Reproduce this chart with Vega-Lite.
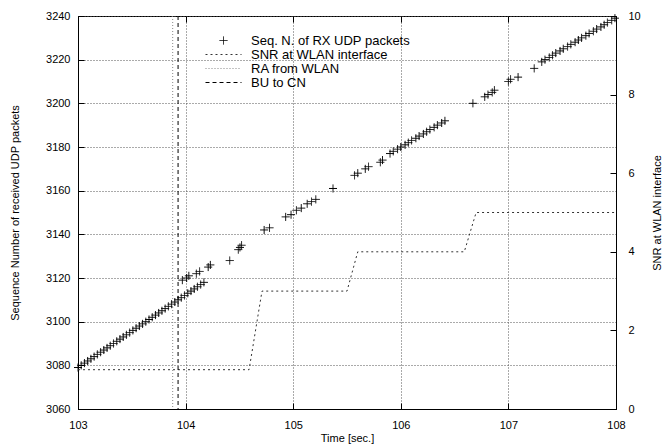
{
  "$schema": "https://vega.github.io/schema/vega-lite/v6.json",
  "width": 538,
  "height": 393,
  "autosize": {"type": "none"},
  "padding": {"left": 78, "top": 16, "right": 54, "bottom": 37},
  "background": "white",
  "config": {
    "font": "Liberation Sans",
    "view": {"stroke": "black", "strokeWidth": 1},
    "axis": {
      "labelFont": "Liberation Sans", "labelFontSize": 11, "labelColor": "black",
      "titleFont": "Liberation Sans", "titleFontSize": 11, "titleFontWeight": "normal", "titleColor": "black",
      "domainColor": "black", "tickColor": "black", "gridColor": "#555", "gridDash": [1, 2], "gridWidth": 1,
      "labelFlush": false, "labelOverlap": false
    },
    "legend": {
      "title": null, "orient": "none", "legendX": 139, "legendY": 18, "padding": 0,
      "symbolSize": 100, "labelOffset": 21, "labelFontSize": 13, "labelFont": "Liberation Sans", "labelColor": "black",
      "rowPadding": -1.5, "symbolStrokeWidth": 1, "symbolOpacity": 1
    }
  },
  "datasets": {
    "packets": [
      {"t": 103.00, "seq": 3079, "series": "Seq. N. of RX UDP packets"}, {"t": 103.03, "seq": 3080, "series": "Seq. N. of RX UDP packets"},
      {"t": 103.06, "seq": 3081, "series": "Seq. N. of RX UDP packets"}, {"t": 103.09, "seq": 3082, "series": "Seq. N. of RX UDP packets"},
      {"t": 103.12, "seq": 3083, "series": "Seq. N. of RX UDP packets"}, {"t": 103.15, "seq": 3084, "series": "Seq. N. of RX UDP packets"},
      {"t": 103.18, "seq": 3085, "series": "Seq. N. of RX UDP packets"}, {"t": 103.21, "seq": 3086, "series": "Seq. N. of RX UDP packets"},
      {"t": 103.24, "seq": 3087, "series": "Seq. N. of RX UDP packets"}, {"t": 103.27, "seq": 3088, "series": "Seq. N. of RX UDP packets"},
      {"t": 103.30, "seq": 3089, "series": "Seq. N. of RX UDP packets"}, {"t": 103.33, "seq": 3090, "series": "Seq. N. of RX UDP packets"},
      {"t": 103.36, "seq": 3091, "series": "Seq. N. of RX UDP packets"}, {"t": 103.39, "seq": 3092, "series": "Seq. N. of RX UDP packets"},
      {"t": 103.42, "seq": 3093, "series": "Seq. N. of RX UDP packets"}, {"t": 103.45, "seq": 3094, "series": "Seq. N. of RX UDP packets"},
      {"t": 103.48, "seq": 3095, "series": "Seq. N. of RX UDP packets"}, {"t": 103.51, "seq": 3096, "series": "Seq. N. of RX UDP packets"},
      {"t": 103.54, "seq": 3097, "series": "Seq. N. of RX UDP packets"}, {"t": 103.57, "seq": 3098, "series": "Seq. N. of RX UDP packets"},
      {"t": 103.60, "seq": 3099, "series": "Seq. N. of RX UDP packets"}, {"t": 103.63, "seq": 3100, "series": "Seq. N. of RX UDP packets"},
      {"t": 103.66, "seq": 3101, "series": "Seq. N. of RX UDP packets"}, {"t": 103.69, "seq": 3102, "series": "Seq. N. of RX UDP packets"},
      {"t": 103.72, "seq": 3103, "series": "Seq. N. of RX UDP packets"}, {"t": 103.75, "seq": 3104, "series": "Seq. N. of RX UDP packets"},
      {"t": 103.78, "seq": 3105, "series": "Seq. N. of RX UDP packets"}, {"t": 103.81, "seq": 3106, "series": "Seq. N. of RX UDP packets"},
      {"t": 103.84, "seq": 3107, "series": "Seq. N. of RX UDP packets"}, {"t": 103.87, "seq": 3108, "series": "Seq. N. of RX UDP packets"},
      {"t": 103.90, "seq": 3109, "series": "Seq. N. of RX UDP packets"}, {"t": 103.93, "seq": 3110, "series": "Seq. N. of RX UDP packets"},
      {"t": 103.96, "seq": 3111, "series": "Seq. N. of RX UDP packets"}, {"t": 103.99, "seq": 3112, "series": "Seq. N. of RX UDP packets"},
      {"t": 104.02, "seq": 3113, "series": "Seq. N. of RX UDP packets"}, {"t": 104.05, "seq": 3114, "series": "Seq. N. of RX UDP packets"},
      {"t": 104.08, "seq": 3115, "series": "Seq. N. of RX UDP packets"}, {"t": 104.11, "seq": 3116, "series": "Seq. N. of RX UDP packets"},
      {"t": 104.14, "seq": 3117, "series": "Seq. N. of RX UDP packets"}, {"t": 104.17, "seq": 3118, "series": "Seq. N. of RX UDP packets"},
      {"t": 103.97, "seq": 3119, "series": "Seq. N. of RX UDP packets"}, {"t": 104.01, "seq": 3120, "series": "Seq. N. of RX UDP packets"},
      {"t": 104.03, "seq": 3121, "series": "Seq. N. of RX UDP packets"}, {"t": 104.10, "seq": 3122, "series": "Seq. N. of RX UDP packets"},
      {"t": 104.13, "seq": 3123, "series": "Seq. N. of RX UDP packets"}, {"t": 104.21, "seq": 3125, "series": "Seq. N. of RX UDP packets"},
      {"t": 104.23, "seq": 3126, "series": "Seq. N. of RX UDP packets"}, {"t": 104.41, "seq": 3128, "series": "Seq. N. of RX UDP packets"},
      {"t": 104.49, "seq": 3133, "series": "Seq. N. of RX UDP packets"}, {"t": 104.505, "seq": 3134, "series": "Seq. N. of RX UDP packets"},
      {"t": 104.52, "seq": 3135, "series": "Seq. N. of RX UDP packets"}, {"t": 104.73, "seq": 3142, "series": "Seq. N. of RX UDP packets"},
      {"t": 104.78, "seq": 3143, "series": "Seq. N. of RX UDP packets"}, {"t": 104.93, "seq": 3148, "series": "Seq. N. of RX UDP packets"},
      {"t": 104.98, "seq": 3149, "series": "Seq. N. of RX UDP packets"}, {"t": 105.03, "seq": 3151, "series": "Seq. N. of RX UDP packets"},
      {"t": 105.075, "seq": 3152, "series": "Seq. N. of RX UDP packets"}, {"t": 105.13, "seq": 3154, "series": "Seq. N. of RX UDP packets"},
      {"t": 105.17, "seq": 3155, "series": "Seq. N. of RX UDP packets"}, {"t": 105.21, "seq": 3156, "series": "Seq. N. of RX UDP packets"},
      {"t": 105.37, "seq": 3161, "series": "Seq. N. of RX UDP packets"}, {"t": 105.57, "seq": 3167, "series": "Seq. N. of RX UDP packets"},
      {"t": 105.60, "seq": 3168, "series": "Seq. N. of RX UDP packets"}, {"t": 105.67, "seq": 3170, "series": "Seq. N. of RX UDP packets"},
      {"t": 105.70, "seq": 3171, "series": "Seq. N. of RX UDP packets"}, {"t": 105.81, "seq": 3173, "series": "Seq. N. of RX UDP packets"},
      {"t": 105.83, "seq": 3174, "series": "Seq. N. of RX UDP packets"}, {"t": 105.90, "seq": 3177, "series": "Seq. N. of RX UDP packets"},
      {"t": 105.93, "seq": 3178, "series": "Seq. N. of RX UDP packets"}, {"t": 105.97, "seq": 3179, "series": "Seq. N. of RX UDP packets"},
      {"t": 106.00, "seq": 3180, "series": "Seq. N. of RX UDP packets"}, {"t": 106.04, "seq": 3181, "series": "Seq. N. of RX UDP packets"},
      {"t": 106.07, "seq": 3182, "series": "Seq. N. of RX UDP packets"}, {"t": 106.10, "seq": 3183, "series": "Seq. N. of RX UDP packets"},
      {"t": 106.14, "seq": 3184, "series": "Seq. N. of RX UDP packets"}, {"t": 106.17, "seq": 3185, "series": "Seq. N. of RX UDP packets"},
      {"t": 106.21, "seq": 3186, "series": "Seq. N. of RX UDP packets"}, {"t": 106.24, "seq": 3187, "series": "Seq. N. of RX UDP packets"},
      {"t": 106.27, "seq": 3188, "series": "Seq. N. of RX UDP packets"}, {"t": 106.31, "seq": 3189, "series": "Seq. N. of RX UDP packets"},
      {"t": 106.34, "seq": 3190, "series": "Seq. N. of RX UDP packets"}, {"t": 106.38, "seq": 3191, "series": "Seq. N. of RX UDP packets"},
      {"t": 106.41, "seq": 3192, "series": "Seq. N. of RX UDP packets"}, {"t": 106.67, "seq": 3200, "series": "Seq. N. of RX UDP packets"},
      {"t": 106.78, "seq": 3203, "series": "Seq. N. of RX UDP packets"}, {"t": 106.81, "seq": 3204, "series": "Seq. N. of RX UDP packets"},
      {"t": 106.85, "seq": 3205, "series": "Seq. N. of RX UDP packets"}, {"t": 106.87, "seq": 3206, "series": "Seq. N. of RX UDP packets"},
      {"t": 107.00, "seq": 3210, "series": "Seq. N. of RX UDP packets"}, {"t": 107.02, "seq": 3211, "series": "Seq. N. of RX UDP packets"},
      {"t": 107.09, "seq": 3212, "series": "Seq. N. of RX UDP packets"}, {"t": 107.24, "seq": 3216, "series": "Seq. N. of RX UDP packets"},
      {"t": 107.31, "seq": 3219, "series": "Seq. N. of RX UDP packets"}, {"t": 107.34, "seq": 3220, "series": "Seq. N. of RX UDP packets"},
      {"t": 107.38, "seq": 3221, "series": "Seq. N. of RX UDP packets"}, {"t": 107.41, "seq": 3222, "series": "Seq. N. of RX UDP packets"},
      {"t": 107.44, "seq": 3223, "series": "Seq. N. of RX UDP packets"}, {"t": 107.48, "seq": 3224, "series": "Seq. N. of RX UDP packets"},
      {"t": 107.51, "seq": 3225, "series": "Seq. N. of RX UDP packets"}, {"t": 107.55, "seq": 3226, "series": "Seq. N. of RX UDP packets"},
      {"t": 107.58, "seq": 3227, "series": "Seq. N. of RX UDP packets"}, {"t": 107.62, "seq": 3228, "series": "Seq. N. of RX UDP packets"},
      {"t": 107.65, "seq": 3229, "series": "Seq. N. of RX UDP packets"}, {"t": 107.68, "seq": 3230, "series": "Seq. N. of RX UDP packets"},
      {"t": 107.72, "seq": 3231, "series": "Seq. N. of RX UDP packets"}, {"t": 107.75, "seq": 3232, "series": "Seq. N. of RX UDP packets"},
      {"t": 107.79, "seq": 3233, "series": "Seq. N. of RX UDP packets"}, {"t": 107.82, "seq": 3234, "series": "Seq. N. of RX UDP packets"},
      {"t": 107.86, "seq": 3235, "series": "Seq. N. of RX UDP packets"}, {"t": 107.89, "seq": 3236, "series": "Seq. N. of RX UDP packets"},
      {"t": 107.92, "seq": 3237, "series": "Seq. N. of RX UDP packets"}, {"t": 107.96, "seq": 3238, "series": "Seq. N. of RX UDP packets"},
      {"t": 107.99, "seq": 3239, "series": "Seq. N. of RX UDP packets"}
    ],
    "snr": [
      {"t": 103.00, "snr": 1, "series": "SNR at WLAN interface"},
      {"t": 104.59, "snr": 1, "series": "SNR at WLAN interface"},
      {"t": 104.71, "snr": 3, "series": "SNR at WLAN interface"},
      {"t": 105.50, "snr": 3, "series": "SNR at WLAN interface"},
      {"t": 105.60, "snr": 4, "series": "SNR at WLAN interface"},
      {"t": 106.59, "snr": 4, "series": "SNR at WLAN interface"},
      {"t": 106.70, "snr": 5, "series": "SNR at WLAN interface"},
      {"t": 108.00, "snr": 5, "series": "SNR at WLAN interface"}
    ],
    "events": [
      {"t": 103.88, "series": "RA from WLAN"},
      {"t": 103.93, "series": "BU to CN"}
    ]
  },
  "layer": [
    {
      "data": {"name": "packets"},
      "mark": {"type": "point", "size": 100, "filled": false, "strokeWidth": 1, "opacity": 1},
      "encoding": {
        "x": {"field": "t", "type": "quantitative",
              "scale": {"domain": [103, 108], "nice": false, "zero": false},
              "axis": {"orient": "bottom", "values": [103, 104, 105, 106, 107, 108], "format": "d", "grid": true,
                       "tickSize": -6, "labelPadding": 16, "title": "Time [sec.]", "titleY": 29, "titleBaseline": "middle"}},
        "y": {"field": "seq", "type": "quantitative",
              "scale": {"domain": [3060, 3240], "nice": false, "zero": false},
              "axis": {"orient": "left", "values": [3060, 3080, 3100, 3120, 3140, 3160, 3180, 3200, 3220, 3240], "format": "d", "grid": true,
                       "tickSize": -6, "labelPadding": 14, "title": "Sequence Number of received UDP packets",
                       "titleX": -63, "titleY": 196.5, "titleAngle": 270, "titleBaseline": "middle", "titleAlign": "center"}},
        "shape": {"field": "series", "type": "nominal",
                  "scale": {"domain": ["Seq. N. of RX UDP packets", "SNR at WLAN interface", "RA from WLAN", "BU to CN"],
                            "range": ["M-0.8,0H0.8M0,-0.8V0.8", "M-3.6,0H3.6", "M-3.6,0H3.6", "M-3.6,0H3.6"]},
                  "legend": {"title": null}},
        "color": {"field": "series", "type": "nominal",
                  "scale": {"domain": ["Seq. N. of RX UDP packets", "SNR at WLAN interface", "RA from WLAN", "BU to CN"],
                            "range": ["black", "#333333", "#888888", "black"]},
                  "legend": {"title": null}},
        "strokeDash": {"field": "series", "type": "nominal",
                       "scale": {"domain": ["Seq. N. of RX UDP packets", "SNR at WLAN interface", "RA from WLAN", "BU to CN"],
                                 "range": [[1, 0], [2, 3], [1, 2], [4, 3]]},
                       "legend": {"title": null}}
      }
    },
    {
      "data": {"name": "snr"},
      "mark": {"type": "line", "strokeWidth": 1, "interpolate": "linear", "color": "#333333"},
      "encoding": {
        "x": {"field": "t", "type": "quantitative", "axis": null},
        "y": {"field": "snr", "type": "quantitative",
              "scale": {"domain": [0, 10], "nice": false, "zero": false},
              "axis": {"orient": "right", "values": [0, 2, 4, 6, 8, 10], "format": "d", "grid": false,
                       "tickSize": -6, "labelPadding": 18, "title": "SNR at WLAN interface",
                       "titleX": 41, "titleY": 196.5, "titleAngle": 270, "titleBaseline": "middle", "titleAlign": "center"}},
        "strokeDash": {"field": "series", "type": "nominal", "legend": null}
      }
    },
    {
      "data": {"name": "events"},
      "transform": [{"filter": "datum.series === 'RA from WLAN'"}],
      "mark": {"type": "rule", "strokeWidth": 1, "color": "#888888"},
      "encoding": {
        "x": {"field": "t", "type": "quantitative",
              "axis": {"orient": "top", "values": [103, 104, 105, 106, 107, 108], "labels": false, "grid": false, "domain": false,
                       "tickSize": -6, "title": null}},
        "strokeDash": {"field": "series", "type": "nominal", "legend": null}
      }
    },
    {
      "data": {"name": "events"},
      "transform": [{"filter": "datum.series === 'BU to CN'"}],
      "mark": {"type": "rule", "strokeWidth": 1, "color": "black"},
      "encoding": {
        "x": {"field": "t", "type": "quantitative", "axis": null},
        "strokeDash": {"field": "series", "type": "nominal", "legend": null}
      }
    }
  ],
  "resolve": {"scale": {"y": "independent"}, "axis": {"x": "independent"}}
}
